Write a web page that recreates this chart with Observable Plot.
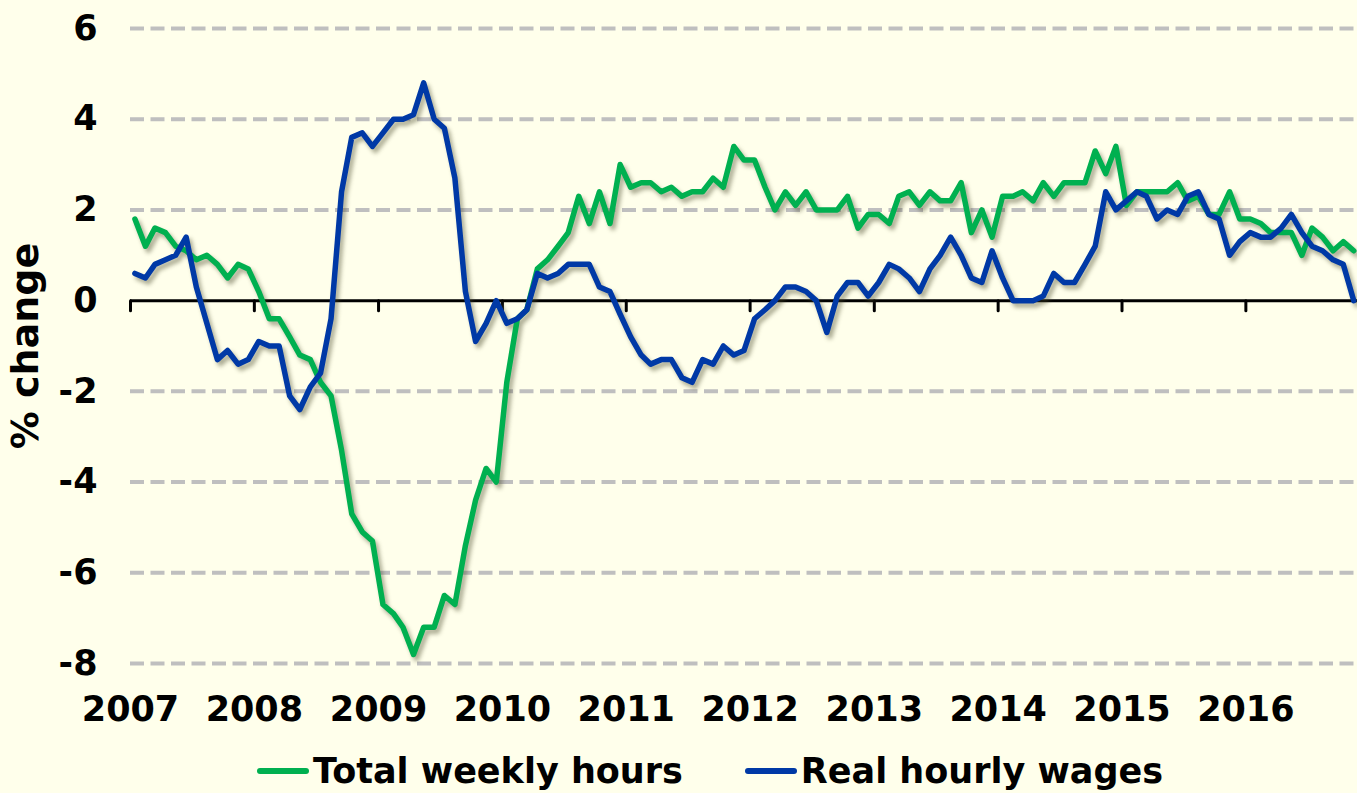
<!DOCTYPE html>
<html><head><meta charset="utf-8">
<script src="https://cdn.jsdelivr.net/npm/d3@7"></script>
<script src="https://cdn.jsdelivr.net/npm/@observablehq/plot@0.6"></script>
<style>
html,body{margin:0;padding:0;background:#FFFFEB;}
body{width:1357px;height:793px;overflow:hidden;font-family:"DejaVu Sans",Verdana,sans-serif;font-weight:bold;}
#legend{display:flex;align-items:center;height:42px;padding-left:257px;font-size:35px;line-height:42px;color:#000;}
.item{display:flex;align-items:center;white-space:nowrap;}
.sw{width:52px;height:6px;border-radius:3px;margin-right:4px;}
</style></head><body>
<div id="chart"></div>
<div id="legend"></div>
<script>
// Monthly series, Jan 2007 onwards (% change)
const startYear = 2007;
const seriesNames = ["Total weekly hours", "Real hourly wages"];
const seriesColors = ["#00B050", "#0039A6"];
const hours = [
  1.8, 1.2, 1.6, 1.5, 1.2, 1.1, 0.9, 1.0, 0.8, 0.5, 0.8, 0.7,
  0.2, -0.4, -0.4, -0.8, -1.2, -1.3, -1.8, -2.1, -3.3, -4.7, -5.1, -5.3,
  -6.7, -6.9, -7.2, -7.8, -7.2, -7.2, -6.5, -6.7, -5.4, -4.4, -3.7, -4.0,
  -1.8, -0.4, -0.2, 0.7, 0.9, 1.2, 1.5, 2.3, 1.7, 2.4, 1.7, 3.0,
  2.5, 2.6, 2.6, 2.4, 2.5, 2.3, 2.4, 2.4, 2.7, 2.5, 3.4, 3.1,
  3.1, 2.5, 2.0, 2.4, 2.1, 2.4, 2.0, 2.0, 2.0, 2.3, 1.6, 1.9,
  1.9, 1.7, 2.3, 2.4, 2.1, 2.4, 2.2, 2.2, 2.6, 1.5, 2.0, 1.4,
  2.3, 2.3, 2.4, 2.2, 2.6, 2.3, 2.6, 2.6, 2.6, 3.3, 2.8, 3.4,
  2.1, 2.4, 2.4, 2.4, 2.4, 2.6, 2.2, 2.3, 1.9, 1.9, 2.4, 1.8,
  1.8, 1.7, 1.5, 1.5, 1.5, 1.0, 1.6, 1.4, 1.1, 1.3, 1.1
];
const wages = [
  0.6, 0.5, 0.8, 0.9, 1.0, 1.4, 0.3, -0.5, -1.3, -1.1, -1.4, -1.3,
  -0.9, -1.0, -1.0, -2.1, -2.4, -1.9, -1.6, -0.4, 2.4, 3.6, 3.7, 3.4,
  3.7, 4.0, 4.0, 4.1, 4.8, 4.0, 3.8, 2.7, 0.2, -0.9, -0.5, 0.0,
  -0.5, -0.4, -0.2, 0.6, 0.5, 0.6, 0.8, 0.8, 0.8, 0.3, 0.2, -0.3,
  -0.8, -1.2, -1.4, -1.3, -1.3, -1.7, -1.8, -1.3, -1.4, -1.0, -1.2, -1.1,
  -0.4, -0.2, 0.0, 0.3, 0.3, 0.2, 0.0, -0.7, 0.1, 0.4, 0.4, 0.1,
  0.4, 0.8, 0.7, 0.5, 0.2, 0.7, 1.0, 1.4, 1.0, 0.5, 0.4, 1.1,
  0.5, 0.0, 0.0, 0.0, 0.1, 0.6, 0.4, 0.4, 0.8, 1.2, 2.4, 2.0,
  2.2, 2.4, 2.3, 1.8, 2.0, 1.9, 2.3, 2.4, 1.9, 1.8, 1.0, 1.3,
  1.5, 1.4, 1.4, 1.6, 1.9, 1.5, 1.2, 1.1, 0.9, 0.8, 0.0
];
const yearTicks = [2007, 2008, 2009, 2010, 2011, 2012, 2013, 2014, 2015, 2016];
const yTicks = [-8, -6, -4, -2, 0, 2, 4, 6];
const gridValues = [-8, -6, -4, -2, 2, 4, 6];

const monthDate = (i) => new Date(Date.UTC(startYear, i, 14));
const rows = [];
hours.forEach((v, i) => rows.push({date: monthDate(i), value: v, series: seriesNames[0]}));
wages.forEach((v, i) => rows.push({date: monthDate(i), value: v, series: seriesNames[1]}));
const yearDates = yearTicks.map(y => new Date(Date.UTC(y, 0, 1)));

const tickShape = {draw(context, l) { context.moveTo(0, 0); context.lineTo(0, -l); }};
const shadow = "drop-shadow(3px 4px 2px rgba(70,70,40,0.45))";

const chart = Plot.plot({
  width: 1357,
  height: 750,
  marginLeft: 130,
  marginRight: 0,
  marginTop: 28,
  marginBottom: 87,
  style: {background: "#FFFFEB", fontFamily: "'DejaVu Sans', Verdana, sans-serif", fontSize: "35px", fontWeight: "bold", color: "#000"},
  x: {type: "utc", domain: [new Date(Date.UTC(2007, 0, 1)), new Date(Date.UTC(2016, 10, 25))]},
  y: {domain: [-8, 6]},
  color: {domain: seriesNames, range: seriesColors},
  marks: [
    Plot.ruleY(gridValues, {stroke: "#BFBFBF", strokeWidth: 4, strokeDasharray: "14,6.5"}),
    Plot.ruleY([0], {stroke: "#000", strokeWidth: 3}),
    Plot.vector(yearDates, {x: d => d, y: d => 0, length: 10, rotate: 180, anchor: "start", shape: tickShape, stroke: "#000", strokeWidth: 3}),
    Plot.line(rows, {x: "date", y: "value", z: "series", stroke: "series", strokeWidth: 5.5, strokeLinejoin: "round", imageFilter: shadow}),
    Plot.axisX({ticks: yearDates, tickFormat: d => String(d.getUTCFullYear()), tickSize: 0, tickPadding: 33, label: null}),
    Plot.axisY({ticks: yTicks, tickFormat: d => String(d), tickSize: 0, tickPadding: 33, label: null}),
    Plot.axisY({ticks: [], tickSize: 0, label: "% change", labelAnchor: "center", labelArrow: "none", labelOffset: 119, fontSize: 38})
  ]
});
document.getElementById("chart").appendChild(chart);

const legend = document.getElementById("legend");
seriesNames.forEach((name, i) => {
  const item = document.createElement("div");
  item.className = "item";
  if (i > 0) item.style.marginLeft = "62px";
  const sw = document.createElement("span");
  sw.className = "sw";
  sw.style.background = seriesColors[i];
  const label = document.createElement("span");
  label.textContent = name;
  item.appendChild(sw);
  item.appendChild(label);
  legend.appendChild(item);
});
</script>
</body></html>
